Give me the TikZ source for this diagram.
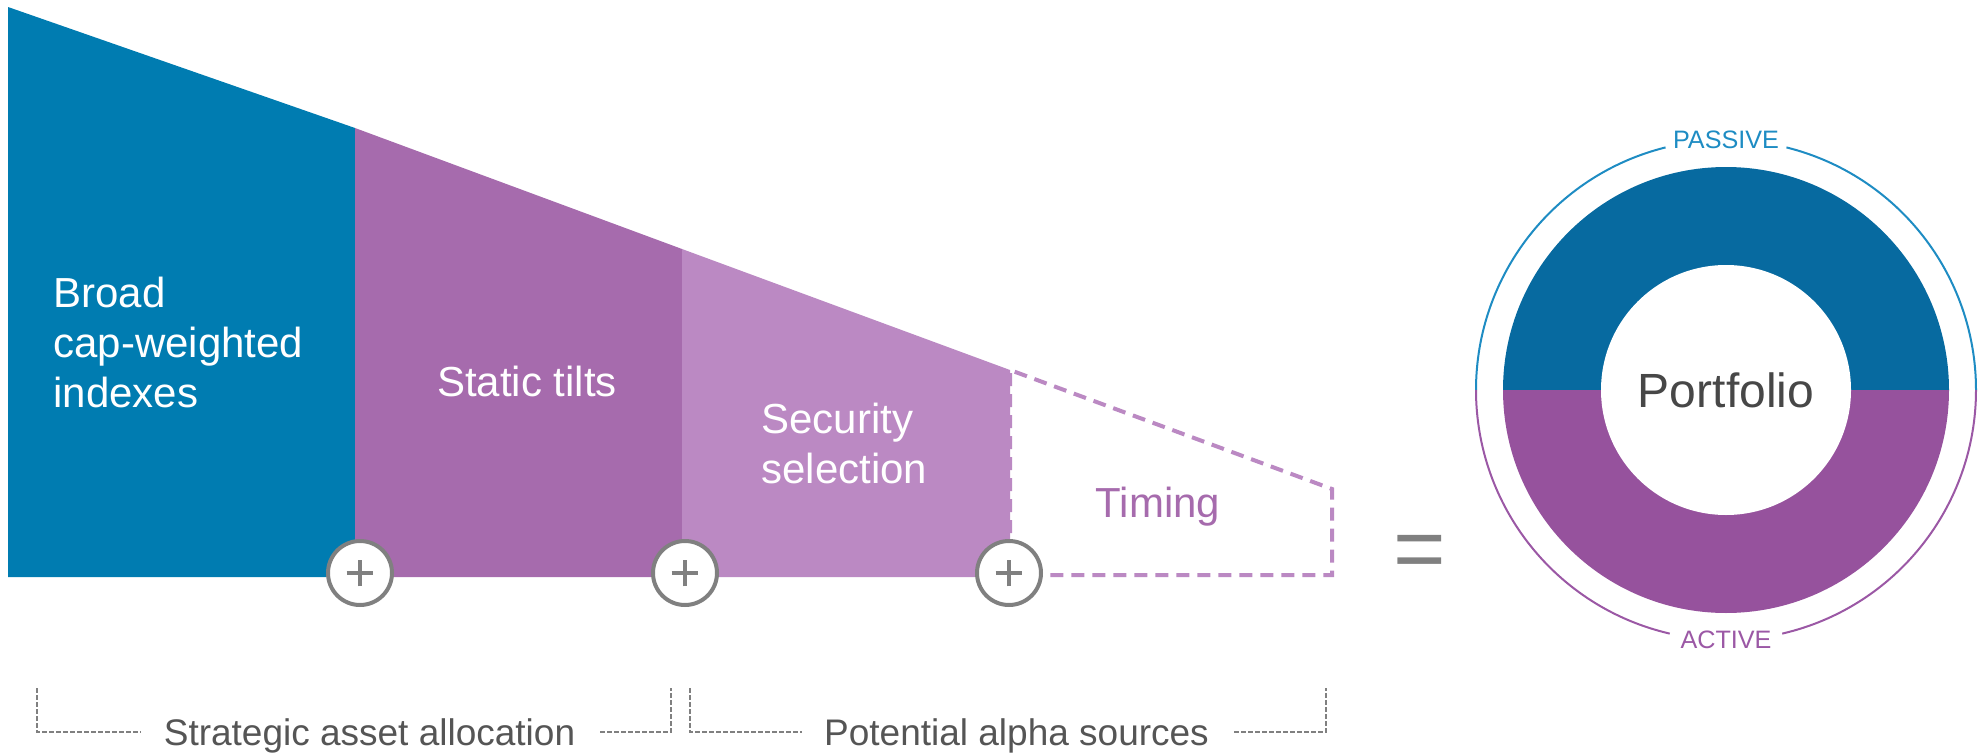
\documentclass[tikz,border=0pt]{standalone}
\usepackage{fontspec}
\setmainfont{Liberation Sans}

\definecolor{capblue}{RGB}{0,124,177}
\definecolor{tiltpurple}{RGB}{166,107,173}
\definecolor{selectpurple}{RGB}{187,137,195}
\definecolor{donutblue}{RGB}{7,106,160}
\definecolor{donutpurple}{RGB}{150,82,157}
\definecolor{ringblue}{RGB}{30,140,195}
\definecolor{ringpurple}{RGB}{155,88,165}
\definecolor{plusgray}{RGB}{128,128,128}
\definecolor{labelgray}{RGB}{85,85,85}
\definecolor{coregray}{RGB}{71,71,71}

\tikzset{
  bandtext/.style={text=white, font=\fontsize{21}{25}\selectfont,
    align=left, inner sep=0pt, anchor=base west},
  timingdash/.style={draw=selectpurple, line width=2pt,
    dash pattern=on 6.5pt off 4pt},
  plusmark/.style={circle, draw=plusgray, line width=2pt, fill=white,
    minimum size=32pt, inner sep=0pt,
    path picture={\draw[plusgray, line width=1.8pt]
      ([xshift=-6.7pt]path picture bounding box.center) --
      ([xshift=6.7pt]path picture bounding box.center)
      ([yshift=-6.7pt]path picture bounding box.center) --
      ([yshift=6.7pt]path picture bounding box.center);}},
  core/.style={circle, fill=white, minimum size=125pt, inner sep=0pt,
    text=coregray, font=\fontsize{24}{29}\selectfont},
  ringtag/.style={inner sep=0pt, font=\fontsize{12.6}{15}\selectfont},
  footlabel/.style={anchor=base, inner sep=0pt, text=labelgray,
    font=\fontsize{18.5}{22}\selectfont},
  bracketline/.style={draw=plusgray, line width=0.8pt,
    dash pattern=on 2.3pt off 1.2pt}
}

\begin{document}
\begin{tikzpicture}[x=0.5pt, y=-0.5pt]
    \useasboundingbox (0,0) rectangle (1988,755);
    \foreach \xa/\ya/\xb/\yb/\c in
      {8/7/355/128/capblue, 355/128/682/249/tiltpurple,
       682/249/1010/370/selectpurple} {
      \fill[\c] (\xa,\ya) -- (\xb,\yb) -- (\xb,577) -- (\xa,577) -- cycle;
    }
    \draw[timingdash] (1010,575) -- (1010,370) -- (1332,489)
      -- (1332,575) -- cycle;
    \node[bandtext] (broad) at (53,407) {Broad\\cap-weighted\\indexes};
    \node[bandtext, anchor=base] (tilts) at (527,396) {Static tilts};
    \node[bandtext] (security) at (761,483) {Security\\selection};
    \node[bandtext, anchor=base, text=tiltpurple] (timing) at (1158,517)
      {Timing};
    \foreach \n/\x in {1/360,2/685,3/1009} {
      \node[plusmark] (plus\n) at (\x,573) {};
    }
    \node[anchor=base, inner sep=0pt, text=plusgray,
      font=\fontsize{45}{54}\selectfont] (equals) at (1420,579) {=};
    \fill[donutblue] (1726,390) ++(180:223)
      arc[start angle=180, end angle=360, radius=223] -- cycle;
    \fill[donutpurple] (1726,390) ++(0:223)
      arc[start angle=0, end angle=180, radius=223] -- cycle;
    \node[core] (portfolio) at (1726,390) {Portfolio};
    \draw[ringblue, line width=1pt] (1726,390) ++(180:250)
      arc[start angle=180, end angle=256, radius=250];
    \draw[ringblue, line width=1pt] (1726,390) ++(284:250)
      arc[start angle=284, end angle=360, radius=250];
    \draw[ringpurple, line width=1pt] (1726,390) ++(0:250)
      arc[start angle=0, end angle=77, radius=250];
    \draw[ringpurple, line width=1pt] (1726,390) ++(103:250)
      arc[start angle=103, end angle=180, radius=250];
    \node[ringtag, text=ringblue] (passive) at (1726,140) {PASSIVE};
    \node[ringtag, text=ringpurple] (active) at (1726,640) {ACTIVE};
    \node[footlabel] (saa) at (369.5,745) {Strategic asset allocation};
    \node[footlabel] (alpha) at (1016.5,745) {Potential alpha sources};
    \draw[bracketline] (37,688) -- (37,732) -- (141,732);
    \draw[bracketline] (600,732) -- (671,732) -- (671,688);
    \draw[bracketline] (690,688) -- (690,732) -- (802,732);
    \draw[bracketline] (1234,732) -- (1326,732) -- (1326,688);
  \end{tikzpicture}
\end{document}
